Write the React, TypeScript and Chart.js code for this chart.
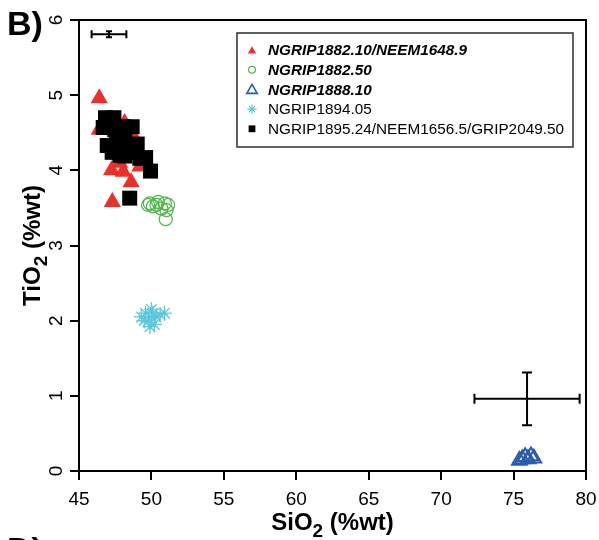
import React, { useEffect, useRef } from 'react';
import { Chart, registerables } from 'chart.js';
import { drawPoint } from 'chart.js/helpers';

Chart.register(...registerables);

const FONT = '"Liberation Sans", Arial, Helvetica, sans-serif';

// ---- axis ranges / ticks ----
const xMin = 45;
const xMax = 80;
const xStep = 5;
const yMin = 0;
const yMax = 6;
const yStep = 1;

// ---- series: NGRIP1882.10/NEEM1648.9 (red filled triangles) ----
const redSiO2 = [46.4, 48.15, 48.7, 46.4, 47.25, 47.8, 48.05, 48.6, 47.3, 49.2];
const redTiO2 = [4.96, 4.63, 4.47, 4.54, 4.0, 4.1, 3.98, 3.84, 3.58, 4.05];

// ---- series: NGRIP1882.50 (green open circles) ----
const greenSiO2 = [49.89, 50.46, 50.92, 51.04, 50.99, 50.1, 50.69, 49.77, 50.35, 51.15];
const greenTiO2 = [3.56, 3.58, 3.56, 3.47, 3.35, 3.52, 3.49, 3.54, 3.54, 3.54];

// ---- series: NGRIP1888.10 (blue open triangles) ----
const blueSiO2 = [75.4, 75.6, 75.8, 76.0, 76.2, 76.4];
const blueTiO2 = [0.14, 0.16, 0.19, 0.16, 0.2, 0.17];

// ---- series: NGRIP1894.05 (cyan asterisks) ----
const cyanSiO2 = [49.3, 49.6, 49.8, 50.0, 50.1, 50.2, 49.9, 50.3, 50.6, 50.9, 49.5, 50.0];
const cyanTiO2 = [2.05, 2.1, 2.0, 2.05, 2.1, 1.95, 1.92, 2.05, 2.08, 2.1, 2.0, 2.15];

// ---- series: NGRIP1895.24/NEEM1656.5/GRIP2049.50 (black squares) ----
const blackSiO2 = [46.83, 47.41, 48.67, 49.02, 49.6, 49.94, 46.67, 46.95, 47.29, 48.16, 49.2, 47.47, 48.16, 47.68, 48.5, 48.85, 47.82, 48.5, 48.1, 47.6];
const blackTiO2 = [4.7, 4.7, 4.58, 4.35, 4.17, 3.99, 4.57, 4.33, 4.24, 4.19, 4.16, 4.54, 4.47, 4.34, 4.34, 4.24, 4.2, 3.63, 4.58, 4.45];

// ---- error bars (typical 2σ) ----
const errCenterSiO2 = [47.07, 75.93];
const errCenterTiO2 = [5.81, 0.96];
const errHalfSiO2 = [1.2, 3.63];
const errHalfTiO2 = [0.04, 0.35];

// ---- legend ----
const legendLabels = [
  'NGRIP1882.10/NEEM1648.9',
  'NGRIP1882.50',
  'NGRIP1888.10',
  'NGRIP1894.05',
  'NGRIP1895.24/NEEM1656.5/GRIP2049.50',
];
const legendBold = [true, true, true, false, false];

const RED = '#ec2f2a';
const GREEN = '#4cb848';
const BLUE = '#2b5cab';
const CYAN = '#5cc8dc';
const BLACK = '#000000';

const zip = (xs: number[], ys: number[]) => xs.map((x, i) => ({ x, y: ys[i] }));

const legendMarkers = [
  { pointStyle: 'triangle', radius: 4.8, borderWidth: 0, fill: RED, stroke: RED },
  { pointStyle: 'circle', radius: 3.4, borderWidth: 1.2, fill: 'rgba(0,0,0,0)', stroke: GREEN },
  { pointStyle: 'triangle', radius: 6, borderWidth: 1.6, fill: 'rgba(0,0,0,0)', stroke: BLUE },
  { pointStyle: 'star', radius: 4.6, borderWidth: 1.2, fill: CYAN, stroke: CYAN },
  { pointStyle: 'rect', radius: 4.8, borderWidth: 0, fill: BLACK, stroke: BLACK },
];

function drawSubText(
  ctx: CanvasRenderingContext2D,
  main1: string,
  sub: string,
  main2: string,
  size: number,
  cx: number,
  baseline: number
) {
  const mainFont = `bold ${size}px ${FONT}`;
  const subFont = `bold ${Math.round(size * 0.78)}px ${FONT}`;
  ctx.font = mainFont;
  const w1 = ctx.measureText(main1).width;
  const w3 = ctx.measureText(main2).width;
  ctx.font = subFont;
  const w2 = ctx.measureText(sub).width;
  const total = w1 + w2 + w3;
  let x = cx - total / 2;
  ctx.textAlign = 'left';
  ctx.textBaseline = 'alphabetic';
  ctx.font = mainFont;
  ctx.fillText(main1, x, baseline);
  x += w1;
  ctx.font = subFont;
  ctx.fillText(sub, x, baseline + size * 0.3);
  x += w2;
  ctx.font = mainFont;
  ctx.fillText(main2, x, baseline);
}

const overlayPlugin = {
  id: 'overlay',
  afterDatasetsDraw(chart: any) {
    const ctx: CanvasRenderingContext2D = chart.ctx;
    const xs = chart.scales.x;
    const ys = chart.scales.y;
    const area = chart.chartArea;
    ctx.save();

    // frame (top and right)
    ctx.strokeStyle = '#000';
    ctx.lineWidth = 2;
    ctx.beginPath();
    ctx.moveTo(area.left, area.top);
    ctx.lineTo(area.right, area.top);
    ctx.lineTo(area.right, area.bottom);
    ctx.stroke();

    // error bars
    ctx.lineWidth = 2;
    for (let i = 0; i < errCenterSiO2.length; i++) {
      const cx = xs.getPixelForValue(errCenterSiO2[i]);
      const cy = ys.getPixelForValue(errCenterTiO2[i]);
      const x0 = xs.getPixelForValue(errCenterSiO2[i] - errHalfSiO2[i]);
      const x1 = xs.getPixelForValue(errCenterSiO2[i] + errHalfSiO2[i]);
      const y0 = ys.getPixelForValue(errCenterTiO2[i] - errHalfTiO2[i]);
      const y1 = ys.getPixelForValue(errCenterTiO2[i] + errHalfTiO2[i]);
      const capH = i === 0 ? 4 : 5;
      const capV = i === 0 ? 3 : 5;
      ctx.beginPath();
      ctx.moveTo(x0, cy);
      ctx.lineTo(x1, cy);
      ctx.moveTo(x0, cy - capH);
      ctx.lineTo(x0, cy + capH);
      ctx.moveTo(x1, cy - capH);
      ctx.lineTo(x1, cy + capH);
      ctx.moveTo(cx, y0);
      ctx.lineTo(cx, y1);
      ctx.moveTo(cx - capV, y0);
      ctx.lineTo(cx + capV, y0);
      ctx.moveTo(cx - capV, y1);
      ctx.lineTo(cx + capV, y1);
      ctx.stroke();
    }

    // rotated y tick labels
    ctx.fillStyle = '#000';
    ctx.font = `19px ${FONT}`;
    ys.ticks.forEach((t: any, i: number) => {
      const py = ys.getPixelForTick(i);
      ctx.save();
      ctx.translate(ys.right - 17, py);
      ctx.rotate(-Math.PI / 2);
      ctx.textAlign = 'center';
      ctx.textBaseline = 'alphabetic';
      ctx.fillText(String(t.value), 0, 0);
      ctx.restore();
    });

    // axis titles
    const midX = (area.left + area.right) / 2;
    const midY = (area.top + area.bottom) / 2;
    drawSubText(ctx, 'SiO', '2', ' (%wt)', 24, midX, 530);
    ctx.save();
    ctx.translate(40, midY);
    ctx.rotate(-Math.PI / 2);
    drawSubText(ctx, 'TiO', '2', ' (%wt)', 24, 0, 0);
    ctx.restore();

    // panel labels
    ctx.font = `bold 34px ${FONT}`;
    ctx.textAlign = 'left';
    ctx.textBaseline = 'alphabetic';
    ctx.fillText('B)', 7, 35);
    ctx.fillText('D)', 7, 561);

    // legend
    const lx0 = 237;
    const ly0 = 33;
    const lx1 = 573;
    const ly1 = 147;
    ctx.fillStyle = '#fff';
    ctx.fillRect(lx0, ly0, lx1 - lx0, ly1 - ly0);
    ctx.strokeStyle = '#3a3a3a';
    ctx.lineWidth = 1.6;
    ctx.strokeRect(lx0, ly0, lx1 - lx0, ly1 - ly0);
    legendLabels.forEach((label, i) => {
      const rowY = 50 + i * 19.7;
      const m = legendMarkers[i];
      ctx.fillStyle = m.fill;
      ctx.strokeStyle = m.stroke;
      ctx.lineWidth = m.borderWidth;
      drawPoint(ctx, { pointStyle: m.pointStyle as any, radius: m.radius, borderWidth: m.borderWidth, rotation: 0 }, 252, rowY + (m.pointStyle === 'triangle' ? 1 : 0));
      ctx.fillStyle = '#000';
      ctx.font = `${legendBold[i] ? 'italic bold ' : ''}15.3px ${FONT}`;
      ctx.textAlign = 'left';
      ctx.textBaseline = 'middle';
      ctx.fillText(label, 268, rowY + 1);
    });

    ctx.restore();
  },
};

export default function App() {
  const canvasRef = useRef<HTMLCanvasElement | null>(null);

  useEffect(() => {
    const canvas = canvasRef.current;
    if (!canvas) return;
    const chart = new Chart(canvas, {
      type: 'scatter',
      data: {
        datasets: [
          {
            label: legendLabels[4],
            data: zip(blackSiO2, blackTiO2),
            pointStyle: 'rect',
            pointRadius: 10.6,
            backgroundColor: BLACK,
            borderColor: BLACK,
            borderWidth: 0,
            order: 0,
          },
          {
            label: legendLabels[0],
            data: zip(redSiO2, redTiO2),
            pointStyle: 'triangle',
            pointRadius: 10,
            backgroundColor: RED,
            borderColor: RED,
            borderWidth: 0,
            order: 1,
          },
          {
            label: legendLabels[1],
            data: zip(greenSiO2, greenTiO2),
            pointStyle: 'circle',
            pointRadius: 6.5,
            backgroundColor: 'rgba(0,0,0,0)',
            borderColor: GREEN,
            borderWidth: 1.2,
            order: 2,
          },
          {
            label: legendLabels[2],
            data: zip(blueSiO2, blueTiO2),
            pointStyle: 'triangle',
            pointRadius: 8.5,
            backgroundColor: 'rgba(0,0,0,0)',
            borderColor: BLUE,
            borderWidth: 2,
            order: 3,
          },
          {
            label: legendLabels[3],
            data: zip(cyanSiO2, cyanTiO2),
            pointStyle: 'star',
            pointRadius: 7.5,
            backgroundColor: CYAN,
            borderColor: CYAN,
            borderWidth: 1.3,
            order: 4,
          },
        ],
      },
      options: {
        animation: false,
        responsive: false,
        maintainAspectRatio: false,
        layout: { padding: { top: 20, right: 13, left: 0, bottom: 0 } },
        plugins: {
          legend: { display: false },
          tooltip: { enabled: false },
          title: { display: false },
        },
        scales: {
          x: {
            type: 'linear',
            position: 'bottom',
            min: xMin,
            max: xMax,
            ticks: {
              stepSize: xStep,
              color: '#000',
              font: { size: 19, family: FONT },
              padding: 8,
              maxRotation: 0,
              autoSkip: false,
            },
            grid: {
              display: true,
              drawOnChartArea: false,
              drawTicks: true,
              tickLength: 9,
              color: '#000',
              lineWidth: 2,
            },
            border: { display: true, color: '#000', width: 2 },
            afterFit: (scale: any) => {
              scale.height = 69;
              scale.paddingLeft = 0;
              scale.paddingRight = 0;
            },
          },
          y: {
            type: 'linear',
            min: yMin,
            max: yMax,
            ticks: { stepSize: yStep, display: false },
            grid: {
              display: true,
              drawOnChartArea: false,
              drawTicks: true,
              tickLength: 9,
              color: '#000',
              lineWidth: 2,
            },
            border: { display: true, color: '#000', width: 2 },
            afterFit: (scale: any) => {
              scale.width = 79;
              scale.paddingTop = 0;
              scale.paddingBottom = 0;
            },
          },
        },
      },
      plugins: [overlayPlugin],
    });
    return () => chart.destroy();
  }, []);

  return (
    <div style={{ position: 'absolute', left: 0, top: 0, width: 599, height: 540, background: '#fff' }}>
      <canvas ref={canvasRef} width={599} height={540} style={{ display: 'block', width: 599, height: 540 }} />
    </div>
  );
}
